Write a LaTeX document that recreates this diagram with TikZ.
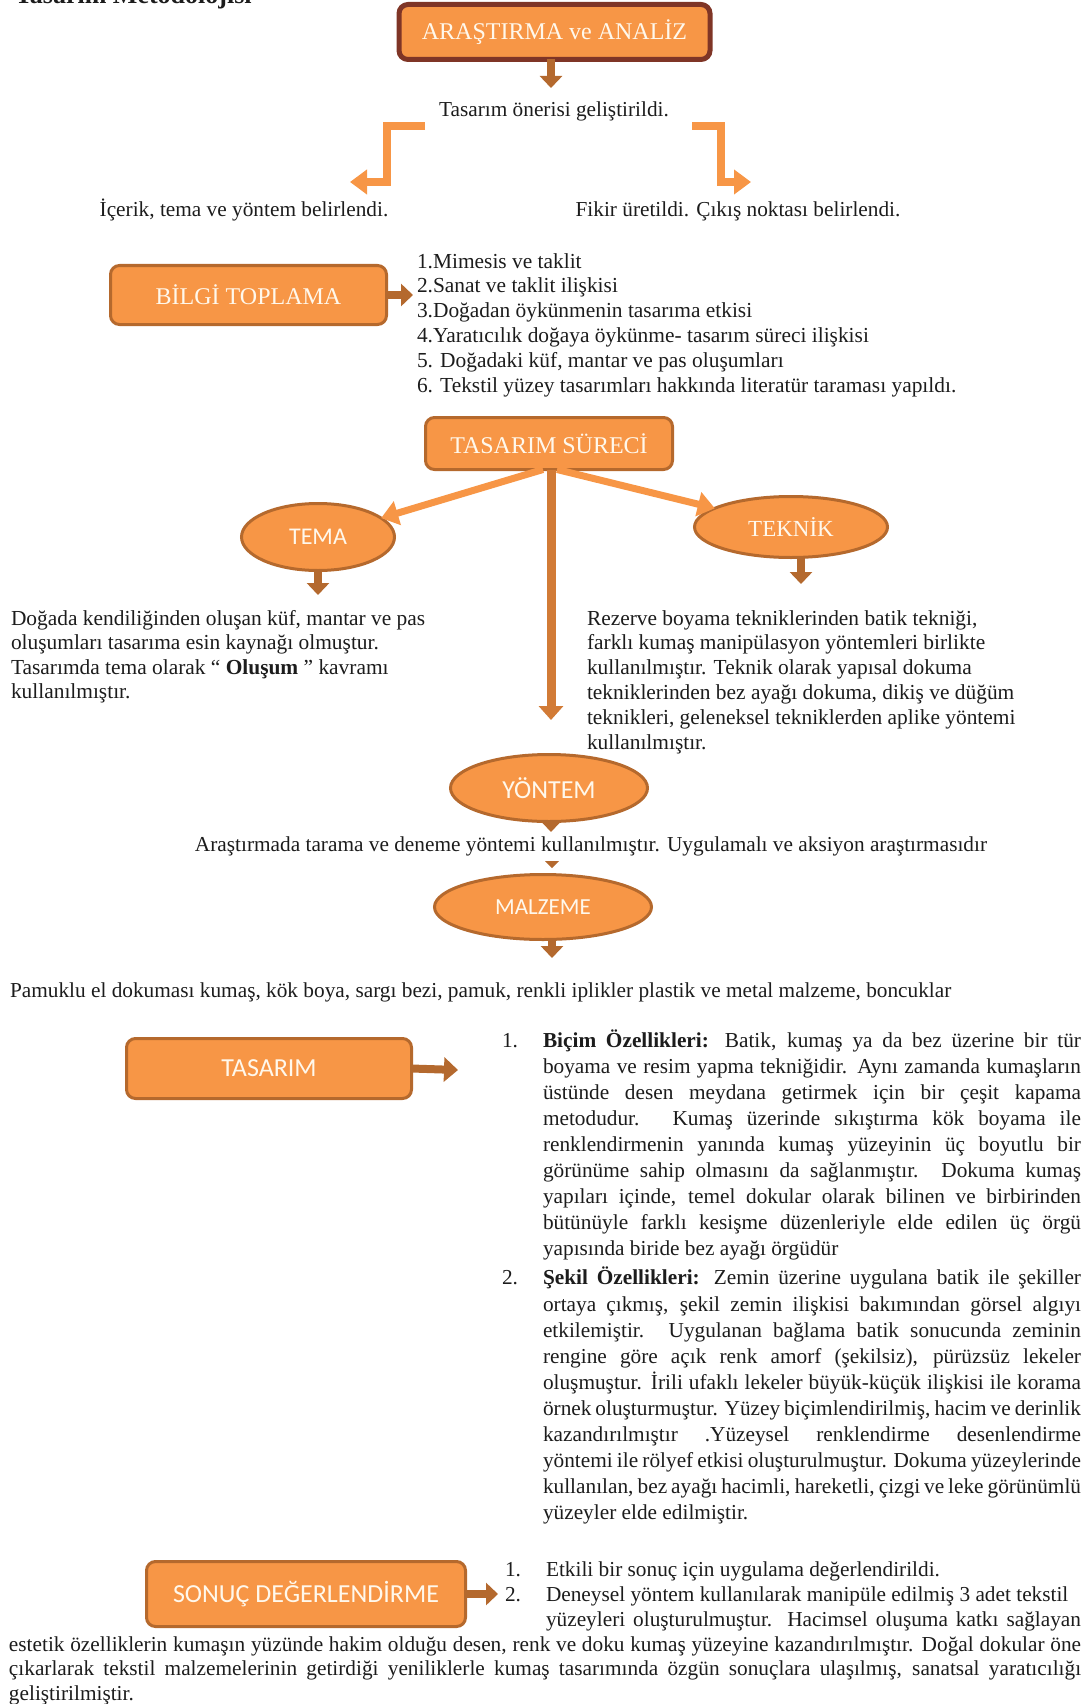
\documentclass[tikz,border=0pt]{standalone}
\usepackage{fontspec}
\setmainfont{Liberation Serif}
\newfontfamily\calib{Carlito}
\usetikzlibrary{arrows.meta,shapes.geometric}
\definecolor{orfill}{HTML}{F79646}
\definecolor{orline}{HTML}{B5692D}
\definecolor{brarrow}{HTML}{B4692E}
\definecolor{vline}{HTML}{D27B36}
\definecolor{darkred}{HTML}{7F3526}
\definecolor{cream}{HTML}{FFF8EC}
\definecolor{ink}{HTML}{1C1C1C}
\newcommand{\bodyfont}{\fontsize{21.3}{26.1}\selectfont}
\newcommand{\jline}[2]{\makebox[#1][s]{#2}}
\begin{document}
\begin{tikzpicture}[x=1pt,y=-1pt,
  every node/.style={inner sep=0pt, outer sep=0pt, text=ink},
  box/.style={rectangle, draw=orline, line width=3pt, fill=orfill, rounded corners=9pt, text=cream},
  oval/.style={ellipse, draw=orline, line width=3pt, fill=orfill, text=cream},
  barrow/.style={draw=brarrow, line width=8pt, -{Triangle[width=22pt,length=12pt]}},
  oarrow/.style={draw=orfill, line width=8pt, line join=miter, -{Triangle[width=24pt,length=17pt]}},
  body/.style={font=\bodyfont, anchor=base west, align=left},
  serifcap/.style={font=\fontsize{24}{24}\selectfont},
  sanscap/.style={font=\calib\fontsize{#1}{#1}\selectfont},
]
\useasboundingbox (0,0) rectangle (1089,1704);

% title (cut at top edge)
\node[font=\bfseries\fontsize{26}{26}\selectfont, anchor=base west] (title) at (15,4) {Tasarım Metodolojisi};

% ARASTIRMA
\node[box, draw=darkred, line width=5pt, minimum width=311pt, minimum height=55pt, serifcap] (ara) at (554.5,32) {ARAŞTIRMA ve ANALİZ};
\node[body, anchor=base] (oneri) at (554,117) {Tasarım önerisi geliştirildi.};
\coordinate (aratip) at (551,88);
\draw[barrow] (ara.south -| aratip) -- (aratip);

\coordinate (l0) at (425,126);
\coordinate (ltip) at (350,182);
\draw[oarrow] (l0) -- (387,126) -- (387,182) -- (ltip);
\coordinate (r0) at (692,126);
\coordinate (rtip) at (751,182);
\draw[oarrow] (r0) -- (721,126) -- (721,182) -- (rtip);

\node[body, anchor=base] (icerik) at (244,217) {İçerik, tema ve yöntem belirlendi.};
\node[body, anchor=base] (fikir) at (738,217) {Fikir üretildi. Çıkış noktası belirlendi.};

% BILGI TOPLAMA  (multi-line nodes: base = last line)
\node[box, minimum width=276pt, minimum height=59pt, serifcap] (bilgi) at (248.5,295) {BİLGİ TOPLAMA};
\coordinate (bilgitip) at (413,295);
\draw[barrow] (bilgi.east) -- (bilgitip);
\node[body, font=\fontsize{21.4}{24.8}\selectfont] (liste) at (417,392) {1.Mimesis ve taklit\\
2.Sanat ve taklit ilişkisi\\
3.Doğadan öykünmenin tasarıma etkisi\\
4.Yaratıcılık doğaya öykünme- tasarım süreci ilişkisi\\
5. Doğadaki küf, mantar ve pas oluşumları\\
6. Tekstil yüzey tasarımları hakkında literatür taraması yapıldı.};

% TASARIM SURECI
\node[box, minimum width=247pt, minimum height=52pt, serifcap] (sur) at (549,443.5) {TASARIM SÜRECİ};
\node[oval, minimum width=153pt, minimum height=67pt, sanscap=24] (tema) at (318,537) {TEMA};
\node[oval, minimum width=193pt, minimum height=61pt, font=\fontsize{23}{23}\selectfont] (teknik) at (791,527) {TEKNİK};
\draw[oarrow, line width=7pt] ([xshift=-6pt]sur.south) -- (tema);
\draw[oarrow, line width=7pt] ([xshift=8pt]sur.south) -- (teknik);
\coordinate (vtip) at (551,720);
\draw[draw=vline, line width=9pt, -{Triangle[width=24pt,length=14pt]}] (sur.south -| vtip) -- (vtip);

\coordinate (tematip) at (318,595);
\draw[barrow] (tema.south) -- (tematip);
\coordinate (teknitip) at (801,584);
\draw[barrow] (teknik.south -| teknitip) -- (teknitip);

\node[body, font=\fontsize{21.4}{24.5}\selectfont] (temap) at (11,698.5) {Doğada kendiliğinden oluşan küf, mantar ve pas\\
oluşumları tasarıma esin kaynağı olmuştur.\\
Tasarımda tema olarak “ \textbf{Oluşum} ” kavramı\\
kullanılmıştır.};
\node[body, font=\fontsize{21.4}{24.8}\selectfont] (teknikp) at (587,749) {Rezerve boyama tekniklerinden batik tekniği,\\
farklı kumaş manipülasyon yöntemleri birlikte\\
kullanılmıştır. Teknik olarak yapısal dokuma\\
tekniklerinden bez ayağı dokuma, dikiş ve düğüm\\
teknikleri, geleneksel tekniklerden aplike yöntemi\\
kullanılmıştır.};

% YONTEM
\node[oval, minimum width=197pt, minimum height=67pt, sanscap=26] (yontem) at (549,788) {YÖNTEM};
\coordinate (ytip) at (551,832);
\draw[barrow] (yontem.south -| ytip) -- (ytip);
\node[body, anchor=base] (arast) at (591,851) {Araştırmada tarama ve deneme yöntemi kullanılmıştır. Uygulamalı ve aksiyon araştırmasıdır};
\fill[brarrow] (545,861) -- (559,861) -- (552,868) -- cycle;

% MALZEME
\node[oval, minimum width=217pt, minimum height=65pt, sanscap=23] (malz) at (543,907) {MALZEME};
\coordinate (mtip) at (552,958);
\draw[barrow] (malz.south -| mtip) -- (mtip);
\node[body] (pamuk) at (10,997) {Pamuklu el dokuması kumaş, kök boya, sargı bezi, pamuk, renkli iplikler plastik ve metal malzeme, boncuklar};

% TASARIM
\node[box, minimum width=285pt, minimum height=60pt, sanscap=26] (tas) at (269,1068.5) {TASARIM};
\coordinate (tastip) at (458,1070);
\draw[barrow, -{Triangle[width=24pt,length=14pt]}] (tas.east) -- (tastip);

\node[body] (n1) at (502,1047) {1.};
\node[body] (it1) at (543,1255.8) {\jline{538pt}{\textbf{Biçim Özellikleri:} Batik, kumaş ya da bez üzerine bir tür}\\
\jline{538pt}{boyama ve resim yapma tekniğidir. Aynı zamanda kumaşların}\\
\jline{538pt}{üstünde desen meydana getirmek için bir çeşit kapama}\\
\jline{538pt}{metodudur. Kumaş üzerinde sıkıştırma kök boyama ile}\\
\jline{538pt}{renklendirmenin yanında kumaş yüzeyinin üç boyutlu bir}\\
\jline{538pt}{görünüme sahip olmasını da sağlanmıştır. Dokuma kumaş}\\
\jline{538pt}{yapıları içinde, temel dokular olarak bilinen ve birbirinden}\\
\jline{538pt}{bütünüyle farklı kesişme düzenleriyle elde edilen üç örgü}\\
yapısında biride bez ayağı örgüdür};

\node[body] (n2) at (502,1284) {2.};
\node[body] (it2) at (543,1519.8) {\jline{538pt}{\textbf{Şekil Özellikleri:} Zemin üzerine uygulana batik ile şekiller}\\
\jline{538pt}{ortaya çıkmış, şekil zemin ilişkisi bakımından görsel algıyı}\\
\jline{538pt}{etkilemiştir. Uygulanan bağlama batik sonucunda zeminin}\\
\jline{538pt}{rengine göre açık renk amorf (şekilsiz), pürüzsüz lekeler}\\
\jline{538pt}{oluşmuştur. İrili ufaklı lekeler büyük-küçük ilişkisi ile korama}\\
\jline{538pt}{örnek oluşturmuştur. Yüzey biçimlendirilmiş, hacim ve derinlik}\\
\jline{538pt}{kazandırılmıştır .Yüzeysel renklendirme desenlendirme}\\
\jline{538pt}{yöntemi ile rölyef etkisi oluşturulmuştur. Dokuma yüzeylerinde}\\
\jline{538pt}{kullanılan, bez ayağı hacimli, hareketli, çizgi ve leke görünümlü}\\
yüzeyler elde edilmiştir.};

% SONUC
\node[box, minimum width=319pt, minimum height=65pt, sanscap=26] (sonuc) at (306,1594) {SONUÇ DEĞERLENDİRME};
\coordinate (stip) at (498,1594);
\draw[barrow] (sonuc.east) -- (stip);
\node[body] (s1n) at (505,1576) {1.};
\node[body] (s1) at (546,1576) {Etkili bir sonuç için uygulama değerlendirildi.};
\node[body] (s2n) at (505,1601) {2.};
\node[body, font=\fontsize{21.3}{25}\selectfont] (s2) at (546,1626) {Deneysel yöntem kullanılarak manipüle edilmiş 3 adet tekstil\\
\jline{535pt}{yüzeyleri oluşturulmuştur. Hacimsel oluşuma katkı sağlayan}};
\node[body, font=\fontsize{21.3}{24.5}\selectfont] (s3) at (9,1700) {\jline{1072pt}{estetik özelliklerin kumaşın yüzünde hakim olduğu desen, renk ve doku kumaş yüzeyine kazandırılmıştır. Doğal dokular öne}\\
\jline{1072pt}{çıkarlarak tekstil malzemelerinin getirdiği yeniliklerle kumaş tasarımında özgün sonuçlara ulaşılmış, sanatsal yaratıcılığı}\\
geliştirilmiştir.};
\end{tikzpicture}
\end{document}
